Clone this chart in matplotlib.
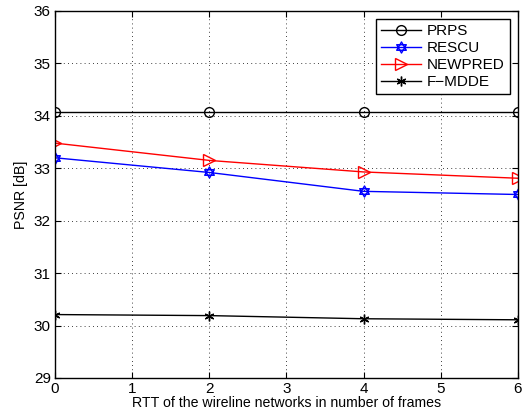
import matplotlib.pyplot as plt
from matplotlib.path import Path
import numpy as np

plt.rcParams['font.family'] = ['Liberation Sans', 'DejaVu Sans']

# RTT in frames and PSNR per scheme
rtt = [0, 2, 4, 6]
prps = [34.07, 34.07, 34.07, 34.07]
rescu = [33.20, 32.92, 32.56, 32.50]
newpred = [33.48, 33.15, 32.93, 32.81]
fmdde = [30.21, 30.19, 30.13, 30.11]

# star of David style marker: two overlapping triangles
ang_up = np.deg2rad([90, 210, 330, 90])
ang_dn = np.deg2rad([270, 30, 150, 270])
verts = list(zip(np.cos(ang_up), np.sin(ang_up))) + list(zip(np.cos(ang_dn), np.sin(ang_dn)))
codes = [Path.MOVETO, Path.LINETO, Path.LINETO, Path.CLOSEPOLY] * 2
hexagram = Path(verts, codes)

fig = plt.figure(figsize=(5.24, 4.18), dpi=100)
ax = fig.add_axes([0.105, 0.0957, 0.8835, 0.878])

ax.plot(rtt, prps, color='black', marker='o', mfc='none', ms=7, lw=1, label='PRPS')
ax.plot(rtt, rescu, color='blue', marker=hexagram, mfc='none', ms=8, lw=1, label='RESCU')
ax.plot(rtt, newpred, color='red', marker='>', mfc='none', ms=8, lw=1, label='NEWPRED')
ax.plot(rtt, fmdde, color='black', marker=(6, 2, 0), ms=7, lw=1, label='F\u2212MDDE')

ax.set_xlim(0, 6)
ax.set_ylim(29, 36)
ax.set_xticks(range(0, 7))
ax.set_yticks(range(29, 37))
ax.tick_params(direction='in', labelsize=11, length=4, pad=3)
ax.tick_params(top=True, right=True)
ax.grid(True, color='black', linestyle=(0, (1, 4)), linewidth=0.6)
for s in ax.spines.values():
    s.set_linewidth(1)

ax.set_xlabel('RTT of the wireline networks in number of frames', fontsize=10.2, labelpad=0)
ax.set_ylabel('PSNR [dB]', fontsize=10.2, labelpad=4)

leg = ax.legend(loc='upper right', fontsize=11, fancybox=False, edgecolor='black',
                framealpha=1, handlelength=2.6, borderaxespad=0.5,
                labelspacing=0.2, handletextpad=0.4, borderpad=0.35)
leg.get_frame().set_linewidth(1)

fig.savefig('out.png', dpi=100)
